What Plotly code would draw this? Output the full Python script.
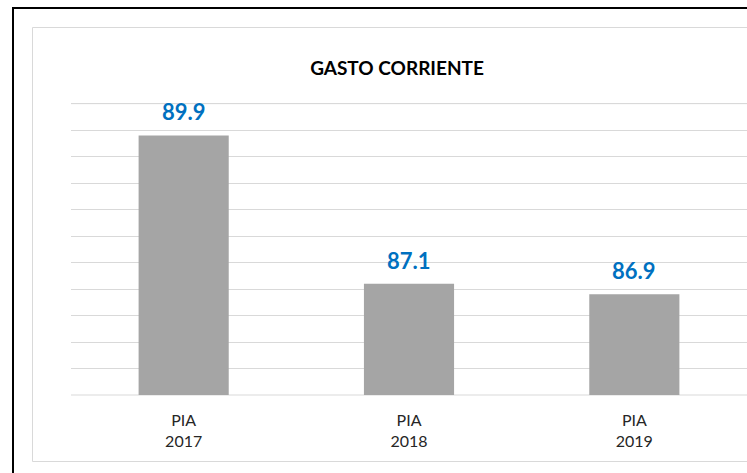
import plotly.graph_objects as go

categories = ["PIA<br>2017", "PIA<br>2018", "PIA<br>2019"]
values = [89.9, 87.1, 86.9]
title_text = "GASTO CORRIENTE"

W, H = 747, 473
L, R, T, B = 71, 0, 101, 78
pw, ph = W - L - R, H - T - B

def px_x(p):
    return (p - L) / pw

def px_y(p):
    return (H - B - p) / ph

fig = go.Figure()
fig.add_trace(go.Bar(
    x=categories, y=values, width=0.4,
    marker=dict(color="#A5A5A5", line=dict(width=0)),
    hoverinfo="skip",
))

for c, v in zip(categories, values):
    fig.add_annotation(
        x=c, y=v, text=f"<b>{v:.1f}</b>", showarrow=False,
        yanchor="bottom", yshift=8,
        font=dict(family="Lato", size=22, color="#0070C0"),
    )

def hline(x0, x1, y, color, width):
    return dict(type="line", xref="paper", yref="paper",
                x0=px_x(x0), x1=px_x(x1), y0=px_y(y), y1=px_y(y),
                line=dict(color=color, width=width), layer="below")

def vline(x, y0, y1, color, width):
    return dict(type="line", xref="paper", yref="paper",
                x0=px_x(x), x1=px_x(x), y0=px_y(y0), y1=px_y(y1),
                line=dict(color=color, width=width), layer="below")

fig.update_layout(
    width=W, height=H,
    margin=dict(l=L, r=R, t=T, b=B),
    paper_bgcolor="white", plot_bgcolor="white",
    showlegend=False,
    title=dict(
        text=f"<b>{title_text}</b>", x=px_x(397), xref="paper",
        y=1 - 68 / H, yref="container", xanchor="center", yanchor="middle",
        font=dict(family="Lato", size=19, color="black"),
    ),
    xaxis=dict(
        showgrid=False, showline=False, ticks="",
        tickfont=dict(family="Lato", size=16, color="#262626"),
        ticklabelstandoff=14,
        fixedrange=True,
    ),
    yaxis=dict(
        range=[85, 90.55], dtick=0.5, tick0=85,
        showgrid=True, gridcolor="#D9D9D9", gridwidth=1,
        showticklabels=False, zeroline=False, showline=False, ticks="",
        fixedrange=True,
    ),
    shapes=[
        # inner light frame
        hline(32.5, 747, 27.5, "#D9D9D9", 1),
        hline(32.5, 747, 461.5, "#D9D9D9", 1),
        vline(32.5, 27.5, 461.5, "#D9D9D9", 1),
        # outer black frame
        hline(12, 747, 8, "black", 2),
        vline(13, 7, 473, "black", 2),
        # top gridline
        dict(type="line", xref="paper", yref="y",
             x0=0, x1=1, y0=90.5, y1=90.5,
             line=dict(color="#D9D9D9", width=1), layer="below"),
        # category axis line
        dict(type="line", xref="paper", yref="paper",
             x0=0, x1=1, y0=0, y1=0,
             line=dict(color="#D9D9D9", width=1), layer="below"),
    ],
)

fig.write_html(
    "out.html",
    config={"displayModeBar": False},
    post_script="document.body.style.margin='0';document.body.style.overflow='hidden';",
)
